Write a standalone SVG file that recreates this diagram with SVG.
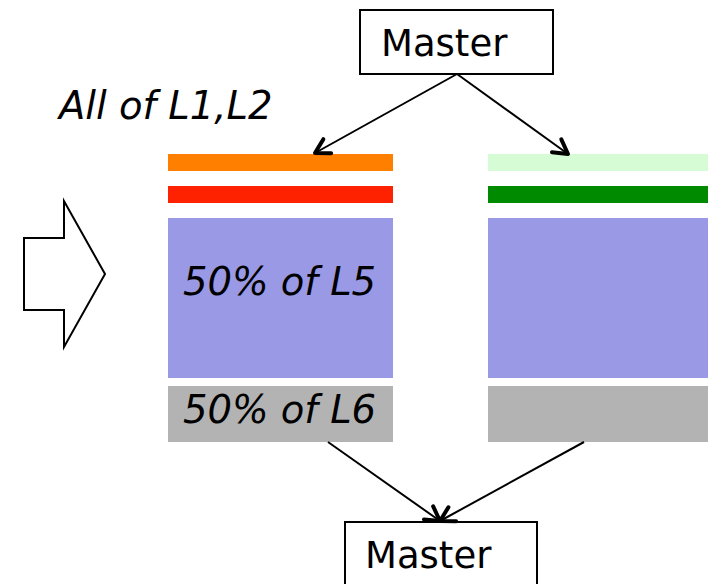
<svg xmlns="http://www.w3.org/2000/svg" width="708" height="584" viewBox="0 0 708 584">
<style>
.box{fill:#fff;stroke:#000;stroke-width:2}
.t{font-family:"DejaVu Sans",Verdana,sans-serif;font-size:37px;fill:#000}
.i{font-style:italic;font-size:38.5px}
.c{fill:none;stroke:#000;stroke-width:2}
</style>
<defs>
<marker id="ah" markerUnits="userSpaceOnUse" markerWidth="24" markerHeight="24" viewBox="-20 -12 24 24" refX="0" refY="0" orient="auto">
<path d="M-14,-8 L0,0 L-14,8" fill="none" stroke="#000" stroke-width="4" stroke-linecap="round" stroke-linejoin="round"/>
</marker>
</defs>
<rect width="708" height="584" fill="#fff"/>
<g id="master-top">
<rect class="box" x="360" y="10" width="193" height="64"/>
<text class="t" x="381" y="56">Master</text>
</g>
<g id="master-bottom">
<rect class="box" x="345" y="522" width="192" height="80"/>
<text class="t" x="365" y="568">Master</text>
</g>
<g id="label-all">
<text class="t i" x="59" y="119">All of L1,L2</text>
</g>
<g id="big-arrow">
<polygon class="box" points="24,238 64,238 64,201 105,274 64,347 64,310 24,310"/>
</g>
<g id="left-stack">
<rect x="168" y="154" width="225" height="17" fill="#ff7f00"/>
<rect x="168" y="186" width="225" height="17" fill="#ff2200"/>
<rect x="168" y="218" width="225" height="160" fill="#9999e6"/>
<rect x="168" y="386" width="225" height="56" fill="#b3b3b3"/>
<text class="t i" x="183" y="295">50% of L5</text>
<text class="t i" x="183" y="423">50% of L6</text>
</g>
<g id="right-stack">
<rect x="488" y="154" width="220" height="17" fill="#d6fcd6"/>
<rect x="488" y="186" width="220" height="17" fill="#008a00"/>
<rect x="488" y="218" width="220" height="160" fill="#9999e6"/>
<rect x="488" y="386" width="220" height="56" fill="#b3b3b3"/>
</g>
<g id="connectors">
<line class="c" x1="457" y1="74" x2="315" y2="153" marker-end="url(#ah)"/>
<line class="c" x1="457" y1="74" x2="568" y2="154" marker-end="url(#ah)"/>
<line class="c" x1="328" y1="442" x2="440" y2="521" marker-end="url(#ah)"/>
<line class="c" x1="584" y1="442" x2="440" y2="521" marker-end="url(#ah)"/>
</g>
</svg>
